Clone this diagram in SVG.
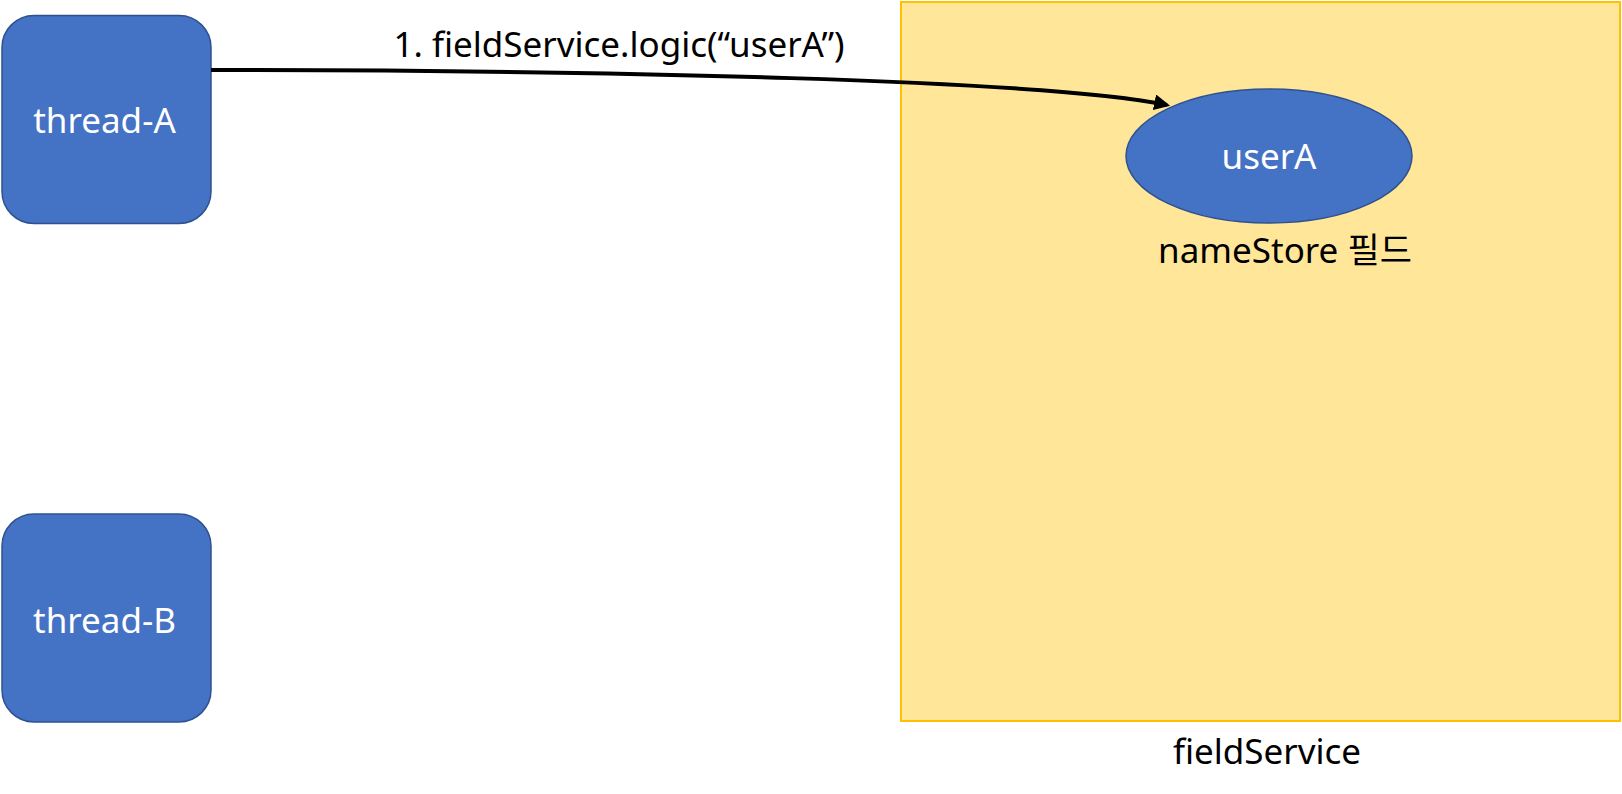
<svg xmlns="http://www.w3.org/2000/svg" width="1622" height="794" viewBox="0 0 1622 794">
<style>
.node{fill:#4472C4;stroke:#2F528F;stroke-width:1.5}
.wt{fill:#FFFFFF;font-family:"Noto Sans","Noto Sans CJK KR",sans-serif;font-size:35px;text-anchor:middle}
.bt{fill:#000000;font-family:"Noto Sans","Noto Sans CJK KR",sans-serif;font-size:35px;text-anchor:middle}
</style>
<defs>
<marker id="arr" viewBox="0 0 10 10" refX="8" refY="5" markerWidth="4" markerHeight="4" orient="auto" markerUnits="strokeWidth">
<path d="M0,0 L10,5 L0,10 z" fill="#000"/>
</marker>
</defs>
<g id="fieldService">
<rect x="901" y="2" width="719" height="719" fill="#FFE699" stroke="#FFC000" stroke-width="2"/>
<text class="bt" x="1267" y="764">fieldService</text>
</g>
<g id="nameStore">
<ellipse cx="1269" cy="156" rx="143" ry="67" class="node"/>
<text class="wt" x="1269" y="169">userA</text>
<text class="bt" x="1285" y="263">nameStore 필드</text>
</g>
<g id="threadA">
<rect x="2" y="15.5" width="209" height="208" rx="32" ry="32" class="node"/>
<text class="wt" x="104.5" y="133">thread-A</text>
</g>
<g id="threadB">
<rect x="2" y="514" width="209" height="208" rx="32" ry="32" class="node"/>
<text class="wt" x="104.5" y="633">thread-B</text>
</g>
<g id="connectors">
<path d="M211,70 C600,70 1050,80 1167,105" fill="none" stroke="#000" stroke-width="4" marker-end="url(#arr)"/>
<text class="bt" x="619" y="57">1. fieldService.logic(“userA”)</text>
</g>
</svg>
